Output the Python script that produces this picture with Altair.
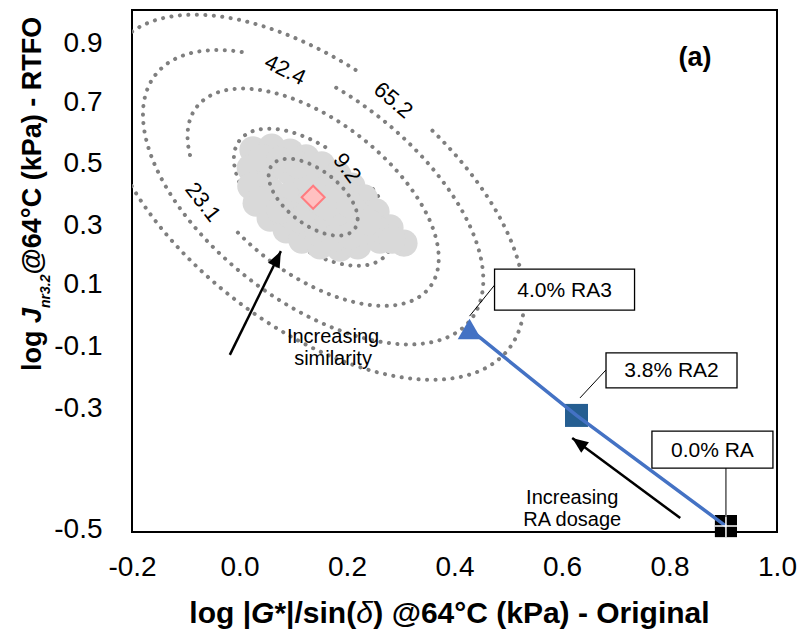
import json
import numpy as np
import pandas as pd
import altair as alt

FONT = "Liberation Sans, Arial, sans-serif"

# ---------------- values ----------------
# cloud of reference binders: log|G*|/sin(d) (x) and log Jnr3.2 (y)
cloud_x = [0.025, 0.060, 0.094, 0.124, 0.153, 0.183, 0.209, 0.232, 0.254,
           0.020, 0.021, 0.031, 0.057, 0.087, 0.116, 0.150, 0.187, 0.220,
           0.280, 0.306, 0.261, 0.057, 0.057, 0.094, 0.094, 0.127, 0.127,
           0.159, 0.159, 0.191, 0.191, 0.220, 0.224, 0.252, 0.094, 0.127,
           0.042, 0.075, 0.109, 0.042, 0.075, 0.113, 0.146, 0.178, 0.206,
           0.239, 0.284, 0.178, 0.206]
cloud_y = [0.598, 0.606, 0.592, 0.575, 0.555, 0.526, 0.494, 0.460, 0.420,
           0.546, 0.494, 0.445, 0.402, 0.368, 0.339, 0.322, 0.316, 0.322,
           0.374, 0.330, 0.339, 0.546, 0.483, 0.534, 0.468, 0.511, 0.440,
           0.483, 0.411, 0.440, 0.374, 0.411, 0.362, 0.374, 0.411, 0.382,
           0.575, 0.569, 0.555, 0.454, 0.425, 0.397, 0.362, 0.345, 0.351,
           0.391, 0.339, 0.468, 0.440]

# centroid of the cloud
centroid_x = [0.137]
centroid_y = [0.462]

# distance contours (levels) around the centroid
contour_levels = [2.9, 9.2, 23.1, 42.4, 65.2]
contour_cov = [[0.002364, -0.001775], [-0.001775, 0.004220]]
contour_label_text = ["9.2", "23.1", "42.4", "65.2"]
contour_label_x = [0.200, -0.068, 0.085, 0.286]
contour_label_y = [0.546, 0.448, 0.828, 0.741]
contour_label_angle = [53, 52, 26, 40]

# RA blends
ra_labels = ["0.0% RA", "3.8% RA2", "4.0% RA3"]
ra_x = [0.905, 0.627, 0.428]
ra_y = [-0.483, -0.165, 0.083]

# annotation arrows
arrow_text = ["Increasing\nsimilarity", "Increasing\nRA dosage"]
arrow_x0 = [-0.018, 0.820]
arrow_y0 = [0.009, -0.460]
arrow_x1 = [0.077, 0.619]
arrow_y1 = [0.307, -0.230]
arrow_text_x = [0.174, 0.619]
arrow_text_y = [0.060, -0.402]

# axes
x_ticks = [-0.2, 0.0, 0.2, 0.4, 0.6, 0.8, 1.0]
y_tick_labels = ["0.9", "0.7", "0.5", "0.3", "0.1", "-0.1", "-0.3", "-0.5"]
y_tick_pos = [0.905, 0.733, 0.560, 0.382, 0.210, 0.032, -0.144, -0.494]

# ---------------- layout ----------------
W, H = 645, 522
XD = [-0.2, 1.0]
YD = [-0.5, 1.0]
KX = W / (XD[1] - XD[0])
KY = H / (YD[1] - YD[0])

xscale = alt.Scale(domain=XD, nice=False, zero=False)
yscale = alt.Scale(domain=YD, nice=False, zero=False)

x_label_expr = "datum.value < 0 ? '-' + format(-datum.value, '.1f') : format(datum.value, '.1f')"
y_label_expr = f"{json.dumps(y_tick_labels)}[indexof({json.dumps(y_tick_pos)}, datum.value)]"

xaxis = alt.Axis(values=x_ticks, title=None, grid=False, ticks=False, domain=False,
                 labelFont=FONT, labelFontSize=28, labelColor="black", labelPadding=21,
                 labelFlush=False, labelOverlap=False, labelExpr=x_label_expr)
yaxis = alt.Axis(values=y_tick_pos, title=None, grid=False, ticks=False, domain=False,
                 labelFont=FONT, labelFontSize=28, labelColor="black", labelPadding=30,
                 labelFlush=False, labelOverlap=False, labelBaseline="middle",
                 labelExpr=y_label_expr)


def ex(f):
    return alt.X(f"{f}:Q", scale=xscale, axis=xaxis)


def ey(f):
    return alt.Y(f"{f}:Q", scale=yscale, axis=yaxis)


# ---------------- contour curves ----------------
mu = np.array([centroid_x[0], centroid_y[0]])
Lc = np.linalg.cholesky(np.array(contour_cov))
t = np.linspace(0, 2 * np.pi, 900, endpoint=False)
circ = np.vstack([np.cos(t), np.sin(t)])
gap_px = [30, 46, 46, 48]
rows = []
for li, lv in enumerate(contour_levels):
    pts = mu[:, None] + np.sqrt(lv) * (Lc @ circ)
    px, py = pts[0], pts[1]
    if li == 0:
        keep = list(range(len(t))) + [0]
    else:
        k = li - 1
        d = np.hypot((px - contour_label_x[k]) * KX, (py - contour_label_y[k]) * KY)
        i0 = int(np.argmin(d))
        order = np.roll(np.arange(len(t)), -i0)
        keep = [int(i) for i in order if d[i] > gap_px[k]]
    for j, i in enumerate(keep):
        rows.append({"level": li, "i": j, "x": float(px[i]), "y": float(py[i])})
contours = pd.DataFrame(rows)

dot_style = dict(clip=True, color="#7f7f7f", strokeWidth=4, strokeCap="round",
                 strokeDash=[0.1, 8.4])

outer = alt.Chart(contours[contours.level > 0]).mark_line(**dot_style).encode(
    x=ex("x"), y=ey("y"), detail="level:N", order="i:Q")
inner = alt.Chart(contours[contours.level == 0]).mark_line(**dot_style).encode(
    x=ex("x"), y=ey("y"), detail="level:N", order="i:Q")

cloud = alt.Chart(pd.DataFrame({"x": cloud_x, "y": cloud_y})).mark_circle(
    size=740, color="#d9d9d9", opacity=1).encode(x=ex("x"), y=ey("y"))

centroid = alt.Chart(pd.DataFrame({"x": centroid_x, "y": centroid_y})).mark_point(
    shape="diamond", size=530, filled=True, fill="#ffc1c1", stroke="#ff7c80",
    strokeWidth=2, opacity=1).encode(x=ex("x"), y=ey("y"))

clabels = alt.Chart(pd.DataFrame({"x": contour_label_x, "y": contour_label_y,
                                  "t": contour_label_text, "a": contour_label_angle})).mark_text(
    font=FONT, fontSize=22, color="black", align="center", baseline="middle").encode(
    x=ex("x"), y=ey("y"), text="t:N", angle=alt.Angle("a:Q", scale=None))

# ---------------- arrows ----------------
arr = pd.DataFrame({"x0": arrow_x0, "y0": arrow_y0, "x1": arrow_x1, "y1": arrow_y1})
arr["ang"] = [float(np.degrees(np.arctan2((b - a) * KX, (d - c) * KY)) % 360)
              for a, b, c, d in zip(arrow_x0, arrow_x1, arrow_y0, arrow_y1)]
arrow_lines = alt.Chart(arr).mark_rule(color="black", strokeWidth=2.5).encode(
    x=ex("x0"), y=ey("y0"), x2="x1:Q", y2="y1:Q")
arrow_heads = alt.Chart(arr).mark_point(
    shape="M0,0L-0.65,1.6L0.65,1.6Z", size=400, filled=True, color="black", opacity=1).encode(
    x=ex("x1"), y=ey("y1"), angle=alt.Angle("ang:Q", scale=None))
arrow_texts = alt.Chart(pd.DataFrame({"x": arrow_text_x, "y": arrow_text_y, "t": arrow_text})).mark_text(
    font=FONT, fontSize=20, lineHeight=22, lineBreak="\n", color="black",
    align="center", baseline="middle").encode(x=ex("x"), y=ey("y"), text="t:N")

# ---------------- RA series ----------------
ra = pd.DataFrame({"x": ra_x, "y": ra_y, "name": ra_labels})
ra_line = alt.Chart(ra).mark_line(color="#4472c4", strokeWidth=3.5).encode(
    x=ex("x"), y=ey("y"), order="x:Q")
m_ra3 = alt.Chart(ra[ra.name == "4.0% RA3"]).mark_point(
    shape="triangle-up", size=560, filled=True, color="#4472c4", opacity=1).encode(x=ex("x"), y=ey("y"))
m_ra2 = alt.Chart(ra[ra.name == "3.8% RA2"]).mark_point(
    shape="square", size=530, filled=True, color="#255e91", opacity=1).encode(x=ex("x"), y=ey("y"))
m_ra0 = alt.Chart(ra[ra.name == "0.0% RA"]).mark_point(
    shape="square", size=490, filled=True, color="black", opacity=1).encode(x=ex("x"), y=ey("y"))
m_ra0x = alt.Chart(ra[ra.name == "0.0% RA"]).mark_point(
    shape="M-1,0L1,0M0,-1L0,1", size=490, filled=False, color="white", strokeWidth=1.5,
    opacity=1).encode(x=ex("x"), y=ey("y"))

# callout boxes (pixel offsets from each point)
callout_style = {
    "4.0% RA3": dict(box=(25, 165, -60, -19), lead=(0, -13, 25, -44)),
    "3.8% RA2": dict(box=(29.5, 160.5, -62.5, -27.5), lead=(3.5, -17.5, 29.5, -45.5)),
    "0.0% RA": dict(box=(-74, 47, -95, -58), lead=(0, -9, 0, -58)),
}
callouts = []
for name, st in callout_style.items():
    sub = alt.Chart(ra[ra.name == name])
    bx0, bx1, by0, by1 = st["box"]
    lx0, ly0, lx1, ly1 = st["lead"]
    callouts.append(sub.mark_rule(color="black", strokeWidth=1, xOffset=lx0, yOffset=ly0,
                                  x2Offset=lx1, y2Offset=ly1).encode(
        x=ex("x"), y=ey("y"), x2="x:Q", y2="y:Q"))
    callouts.append(sub.mark_rect(fill="white", stroke="black", strokeWidth=1.3,
                                  xOffset=bx0, x2Offset=bx1, yOffset=by0, y2Offset=by1).encode(
        x=ex("x"), y=ey("y"), x2="x:Q", y2="y:Q"))
    callouts.append(sub.mark_text(font=FONT, fontSize=21, color="black", align="center",
                                  baseline="middle", dx=(bx0 + bx1) / 2, dy=(by0 + by1) / 2 + 1).encode(
        x=ex("x"), y=ey("y"), text="name:N"))

# ---------------- panel tag and axis titles ----------------
one = pd.DataFrame({"t": ["(a)"]})
tag = alt.Chart(one).mark_text(font=FONT, fontSize=27, fontWeight="bold", color="black",
                               align="center", baseline="middle").encode(
    x=alt.value(563), y=alt.value(48), text="t:N")

title_marks = []
# x title pieces: (text, width in em, style, weight)
xt_pieces = [("log |", 2.058, "normal", "bold"), ("G", 0.778, "italic", "bold"),
             ("*|/sin(", 2.725, "normal", "bold"), ("\u03b4", 0.57, "italic", "normal"),
             (") @64\u00b0C (kPa) - Original", 11.211, "normal", "bold")]
XFS = 30
total = sum(p[1] for p in xt_pieces) * XFS
cx = 317.5 - total / 2
for txt, em, style, weight in xt_pieces:
    title_marks.append(alt.Chart(pd.DataFrame({"t": [txt]})).mark_text(
        font=FONT, fontSize=XFS, fontStyle=style, fontWeight=weight, color="black",
        align="left", baseline="alphabetic").encode(
        x=alt.value(cx), y=alt.value(613), text="t:N"))
    cx += em * XFS

# y title pieces, reading upward: (text, width em, style, weight, size, baseline x)
yt_pieces = [("log ", 1.778, "normal", "bold", 27, -91), ("J", 0.556, "italic", "bold", 27, -91),
             ("nr3.2", 2.39, "italic", "bold", 14, -82),
             (" @64\u00b0C (kPa) - RTFO", 9.821, "normal", "bold", 27, -91)]
cy = 361
for txt, em, style, weight, fs, bx in yt_pieces:
    title_marks.append(alt.Chart(pd.DataFrame({"t": [txt]})).mark_text(
        font=FONT, fontSize=fs, fontStyle=style, fontWeight=weight, color="black",
        align="left", baseline="alphabetic", angle=270).encode(
        x=alt.value(bx), y=alt.value(cy), text="t:N"))
    cy -= em * fs

chart = alt.layer(
    outer, cloud, inner, centroid, clabels,
    arrow_lines, arrow_heads, arrow_texts,
    m_ra3, m_ra2, m_ra0, ra_line, m_ra0x,
    *callouts, tag, *title_marks
).properties(
    width=W, height=H,
    padding={"left": 132, "top": 10, "right": 23, "bottom": 100},
    autosize=alt.AutoSizeParams(type="none"),
).configure_view(stroke="black", strokeWidth=2)

chart.save("out.html", embed_options={"renderer": "svg", "actions": False})
